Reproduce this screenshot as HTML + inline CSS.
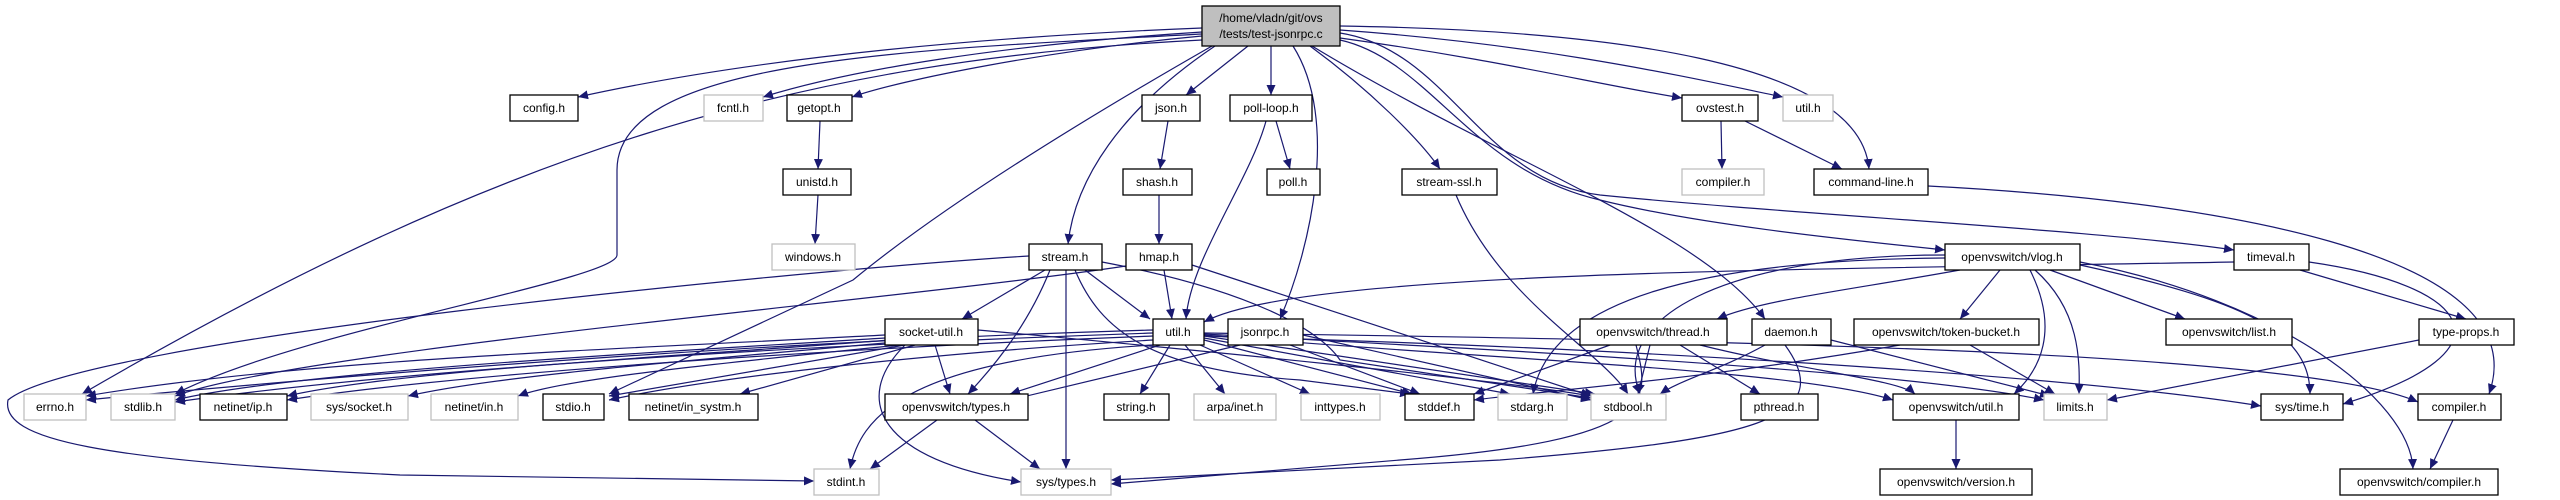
<!DOCTYPE html>
<html><head><meta charset="utf-8"><style>
html,body{margin:0;padding:0;background:#fff;width:2560px;height:500px;overflow:hidden}
svg{display:block}
text{font-family:"Liberation Sans",sans-serif;font-size:12px;text-anchor:middle;fill:#000}
.e{fill:none;stroke:#191970;stroke-width:1.2}
.b{fill:#fff;stroke:#000;stroke-width:1.3}
.g{fill:#fff;stroke:#bfbfbf;stroke-width:1.3}
</style></head><body>
<svg width="2560" height="500" viewBox="0 0 2560 500" xmlns="http://www.w3.org/2000/svg">
<defs><marker id="a" markerUnits="userSpaceOnUse" markerWidth="11" markerHeight="9" refX="10" refY="4.5" orient="auto"><path d="M0,0 L10,4.5 L0,9 Z" fill="#191970"/></marker></defs>
<g class="e" marker-end="url(#a)">
<path d="M1202,28 C900,40 700,70 578,97"/>
<path d="M1202,32 C1000,45 850,70 763,97"/>
<path d="M1202,36 C1050,50 900,80 852,97"/>
<path d="M1248,46 L1186,95"/>
<path d="M1271,46 L1271,95"/>
<path d="M1340,38 C1500,60 1600,85 1682,98"/>
<path d="M1340,30 C1550,45 1700,80 1783,97"/>
<path d="M1340,26 C1600,30 1860,60 1869,169"/>
<path d="M1215,46 C1120,110 1075,180 1068,244"/>
<path d="M1310,46 C1370,90 1420,140 1440,169"/>
<path d="M1293,46 C1340,120 1310,250 1280,319"/>
<path d="M1312,46 C1500,160 1700,230 1765,319"/>
<path d="M1340,40 C1430,60 1470,170 1600,200 C1700,225 1850,240 1945,250"/>
<path d="M1340,33 C1450,50 1480,180 1600,195 C1800,215 2100,230 2234,250"/>
<path d="M1202,40 C800,60 500,150 82,394"/>
<path d="M1202,34 C900,50 617,60 617,170 L617,255 C617,280 300,330 175,394"/>
<path d="M1212,46 C1100,110 950,200 853,280 L609,394"/>
<path d="M820,121 L818,169"/>
<path d="M818,195 L815,244"/>
<path d="M1168,121 L1160,169"/>
<path d="M1159,195 L1159,244"/>
<path d="M1276,121 L1290,169"/>
<path d="M1266,121 C1250,180 1190,260 1186,319"/>
<path d="M1456,195 C1500,300 1600,350 1628,394"/>
<path d="M1721,121 L1722,169"/>
<path d="M1745,121 L1842,169"/>
<path d="M1928,186 C2200,200 2540,250 2489,394"/>
<path d="M2234,262 C1800,270 1300,270 1204,322"/>
<path d="M2300,270 L2466,319"/>
<path d="M2309,262 C2470,285 2520,350 2343,404"/>
<path d="M1960,270 C1850,290 1760,300 1717,319"/>
<path d="M2000,270 L1960,319"/>
<path d="M2050,270 L2185,319"/>
<path d="M2030,270 C2060,330 2040,370 2014,394"/>
<path d="M2035,270 C2080,310 2080,360 2079,394"/>
<path d="M2080,265 C2240,300 2310,330 2310,394"/>
<path d="M2080,262 C2280,300 2410,400 2413,469"/>
<path d="M1945,258 C1700,260 1550,300 1533,394"/>
<path d="M1945,255 C1720,255 1610,320 1640,394"/>
<path d="M1785,345 C1840,420 1750,440 1500,460 L1111,480"/>
<path d="M1636,345 C1650,400 1660,440 1400,460 L1111,484"/>
<path d="M1610,345 L1474,394"/>
<path d="M1650,345 L1638,394"/>
<path d="M1680,345 L1760,394"/>
<path d="M1700,345 C1800,370 1900,380 1915,394"/>
<path d="M1765,345 C1720,370 1680,380 1660,394"/>
<path d="M1831,340 L2050,396"/>
<path d="M1970,345 L2055,394"/>
<path d="M1900,345 C1700,380 1550,390 1474,400"/>
<path d="M2419,340 L2107,400"/>
<path d="M2453,420 L2430,469"/>
<path d="M1956,420 L1956,469"/>
<path d="M1045,270 L962,319"/>
<path d="M1050,270 C1030,320 1000,360 968,394"/>
<path d="M1066,270 L1066,469"/>
<path d="M1085,270 L1150,319"/>
<path d="M1075,270 C1100,330 1150,370 1300,380 L1410,394"/>
<path d="M1102,262 C1250,290 1320,330 1340,360 L1591,398"/>
<path d="M1029,256 C800,270 80,340 8,400 C0,440 100,460 400,475 L814,481"/>
<path d="M1126,266 C900,300 300,350 175,396"/>
<path d="M1164,270 L1172,319"/>
<path d="M1192,265 L1591,396"/>
<path d="M885,335 C600,350 300,360 86,396"/>
<path d="M885,338 C700,350 300,370 175,400"/>
<path d="M890,340 C700,355 400,370 287,396"/>
<path d="M895,342 C700,360 500,375 408,396"/>
<path d="M900,345 C700,365 560,380 518,396"/>
<path d="M905,345 L609,396"/>
<path d="M915,345 L740,394"/>
<path d="M935,345 L950,394"/>
<path d="M905,345 C850,400 880,460 1021,482"/>
<path d="M978,330 C1200,350 1500,380 1591,396"/>
<path d="M1160,345 L1010,394"/>
<path d="M1170,345 L1140,394"/>
<path d="M1185,345 L1225,394"/>
<path d="M1200,345 L1310,394"/>
<path d="M1204,340 L1412,394"/>
<path d="M1204,338 L1510,394"/>
<path d="M1204,336 L1595,394"/>
<path d="M1204,334 C1500,350 1900,370 2044,400"/>
<path d="M1204,335 C1500,360 1800,370 1893,400"/>
<path d="M1204,333 C1700,340 2300,350 2418,402"/>
<path d="M1204,336 C1700,350 2100,380 2261,406"/>
<path d="M1153,330 C800,340 400,370 86,400"/>
<path d="M1153,333 C800,345 400,370 175,402"/>
<path d="M1153,336 C800,350 450,375 287,400"/>
<path d="M1153,340 C900,355 700,380 609,400"/>
<path d="M1153,345 C900,360 860,420 850,469"/>
<path d="M1240,345 L1010,400"/>
<path d="M1290,345 L1420,394"/>
<path d="M1303,335 L1591,400"/>
<path d="M937,420 L870,469"/>
<path d="M975,420 L1040,469"/>
</g>
<rect x="1202" y="6" width="138" height="40" fill="#bfbfbf" stroke="#000" stroke-width="1.3"/>
<text x="1271" y="22">/home/vladn/git/ovs</text><text x="1271" y="38">/tests/test-jsonrpc.c</text>
<g>
<rect class="b" x="510" y="95" width="68" height="26"/><text x="544" y="112">config.h</text>
<rect class="g" x="704" y="95" width="59" height="26"/><text x="733" y="112">fcntl.h</text>
<rect class="b" x="787" y="95" width="65" height="26"/><text x="819" y="112">getopt.h</text>
<rect class="b" x="1142" y="95" width="58" height="26"/><text x="1171" y="112">json.h</text>
<rect class="b" x="1230" y="95" width="82" height="26"/><text x="1271" y="112">poll-loop.h</text>
<rect class="b" x="1682" y="95" width="76" height="26"/><text x="1720" y="112">ovstest.h</text>
<rect class="g" x="1783" y="95" width="50" height="26"/><text x="1808" y="112">util.h</text>
<rect class="b" x="783" y="169" width="68" height="26"/><text x="817" y="186">unistd.h</text>
<rect class="b" x="1123" y="169" width="69" height="26"/><text x="1157" y="186">shash.h</text>
<rect class="b" x="1267" y="169" width="53" height="26"/><text x="1293" y="186">poll.h</text>
<rect class="b" x="1402" y="169" width="95" height="26"/><text x="1449" y="186">stream-ssl.h</text>
<rect class="g" x="1682" y="169" width="82" height="26"/><text x="1723" y="186">compiler.h</text>
<rect class="b" x="1814" y="169" width="114" height="26"/><text x="1871" y="186">command-line.h</text>
<rect class="g" x="772" y="244" width="83" height="26"/><text x="813" y="261">windows.h</text>
<rect class="b" x="1029" y="244" width="73" height="26"/><text x="1065" y="261">stream.h</text>
<rect class="b" x="1126" y="244" width="66" height="26"/><text x="1159" y="261">hmap.h</text>
<rect class="b" x="1945" y="244" width="135" height="26"/><text x="2012" y="261">openvswitch/vlog.h</text>
<rect class="b" x="2234" y="244" width="75" height="26"/><text x="2271" y="261">timeval.h</text>
<rect class="b" x="885" y="319" width="93" height="26"/><text x="931" y="336">socket-util.h</text>
<rect class="b" x="1153" y="319" width="51" height="26"/><text x="1178" y="336">util.h</text>
<rect class="b" x="1228" y="319" width="75" height="26"/><text x="1265" y="336">jsonrpc.h</text>
<rect class="b" x="1580" y="319" width="147" height="26"/><text x="1653" y="336">openvswitch/thread.h</text>
<rect class="b" x="1752" y="319" width="79" height="26"/><text x="1791" y="336">daemon.h</text>
<rect class="b" x="1854" y="319" width="185" height="26"/><text x="1946" y="336">openvswitch/token-bucket.h</text>
<rect class="b" x="2166" y="319" width="126" height="26"/><text x="2229" y="336">openvswitch/list.h</text>
<rect class="b" x="2419" y="319" width="95" height="26"/><text x="2466" y="336">type-props.h</text>
<rect class="g" x="24" y="394" width="62" height="26"/><text x="55" y="411">errno.h</text>
<rect class="g" x="111" y="394" width="64" height="26"/><text x="143" y="411">stdlib.h</text>
<rect class="b" x="200" y="394" width="87" height="26"/><text x="243" y="411">netinet/ip.h</text>
<rect class="g" x="311" y="394" width="97" height="26"/><text x="359" y="411">sys/socket.h</text>
<rect class="g" x="431" y="394" width="87" height="26"/><text x="474" y="411">netinet/in.h</text>
<rect class="b" x="543" y="394" width="61" height="26"/><text x="573" y="411">stdio.h</text>
<rect class="b" x="629" y="394" width="129" height="26"/><text x="693" y="411">netinet/in_systm.h</text>
<rect class="b" x="885" y="394" width="143" height="26"/><text x="956" y="411">openvswitch/types.h</text>
<rect class="b" x="1104" y="394" width="65" height="26"/><text x="1136" y="411">string.h</text>
<rect class="g" x="1194" y="394" width="82" height="26"/><text x="1235" y="411">arpa/inet.h</text>
<rect class="g" x="1301" y="394" width="79" height="26"/><text x="1340" y="411">inttypes.h</text>
<rect class="b" x="1405" y="394" width="69" height="26"/><text x="1439" y="411">stddef.h</text>
<rect class="g" x="1498" y="394" width="69" height="26"/><text x="1532" y="411">stdarg.h</text>
<rect class="g" x="1591" y="394" width="75" height="26"/><text x="1628" y="411">stdbool.h</text>
<rect class="b" x="1741" y="394" width="77" height="26"/><text x="1779" y="411">pthread.h</text>
<rect class="b" x="1893" y="394" width="126" height="26"/><text x="1956" y="411">openvswitch/util.h</text>
<rect class="g" x="2044" y="394" width="63" height="26"/><text x="2075" y="411">limits.h</text>
<rect class="b" x="2261" y="394" width="82" height="26"/><text x="2302" y="411">sys/time.h</text>
<rect class="b" x="2418" y="394" width="83" height="26"/><text x="2459" y="411">compiler.h</text>
<rect class="g" x="814" y="469" width="65" height="26"/><text x="846" y="486">stdint.h</text>
<rect class="g" x="1021" y="469" width="90" height="26"/><text x="1066" y="486">sys/types.h</text>
<rect class="b" x="1880" y="469" width="152" height="26"/><text x="1956" y="486">openvswitch/version.h</text>
<rect class="b" x="2340" y="469" width="158" height="26"/><text x="2419" y="486">openvswitch/compiler.h</text>
</g>
</svg>
</body></html>
